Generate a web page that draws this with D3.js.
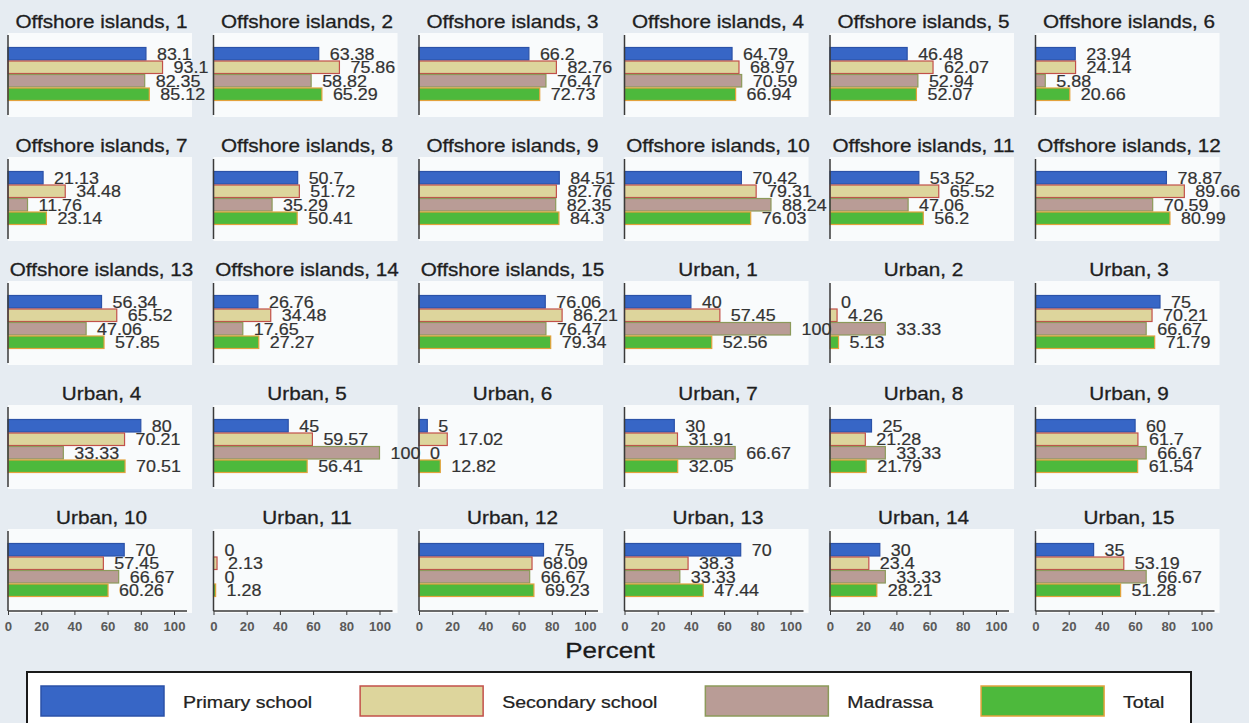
<!DOCTYPE html>
<html>
<head>
<meta charset="utf-8">
<script src="https://cdn.jsdelivr.net/npm/d3@7"></script>
<style>
  html, body { margin: 0; padding: 0; background: #e6ecf2; }
  svg { display: block; font-family: "Liberation Sans", Arial, sans-serif; }
</style>
</head>
<body>
<svg id="chart" width="1249" height="723"></svg>
<script>
// ---------------- DATA ----------------
const panels = [
  "Offshore islands, 1","Offshore islands, 2","Offshore islands, 3","Offshore islands, 4","Offshore islands, 5","Offshore islands, 6",
  "Offshore islands, 7","Offshore islands, 8","Offshore islands, 9","Offshore islands, 10","Offshore islands, 11","Offshore islands, 12",
  "Offshore islands, 13","Offshore islands, 14","Offshore islands, 15","Urban, 1","Urban, 2","Urban, 3",
  "Urban, 4","Urban, 5","Urban, 6","Urban, 7","Urban, 8","Urban, 9",
  "Urban, 10","Urban, 11","Urban, 12","Urban, 13","Urban, 14","Urban, 15"
];
const seriesNames = ["Primary school", "Secondary school", "Madrassa", "Total"];
const primary   = [83.1,63.38,66.2,64.79,46.48,23.94,21.13,50.7,84.51,70.42,53.52,78.87,56.34,26.76,76.06,40,0,75,80,45,5,30,25,60,70,0,75,70,30,35];
const secondary = [93.1,75.86,82.76,68.97,62.07,24.14,34.48,51.72,82.76,79.31,65.52,89.66,65.52,34.48,86.21,57.45,4.26,70.21,70.21,59.57,17.02,31.91,21.28,61.7,57.45,2.13,68.09,38.3,23.4,53.19];
const madrassa  = [82.35,58.82,76.47,70.59,52.94,5.88,11.76,35.29,82.35,88.24,47.06,70.59,47.06,17.65,76.47,100,33.33,66.67,33.33,100,0,66.67,33.33,66.67,66.67,0,66.67,33.33,33.33,66.67];
const total     = [85.12,65.29,72.73,66.94,52.07,20.66,23.14,50.41,84.3,76.03,56.2,80.99,57.85,27.27,79.34,52.56,5.13,71.79,70.51,56.41,12.82,32.05,21.79,61.54,60.26,1.28,69.23,47.44,28.21,51.28];
const xTicks = [0, 20, 40, 60, 80, 100];
const axisTitle = "Percent";

// ---------------- STYLE ----------------
const fills   = ["#3766c6", "#ddd59c", "#b99c96", "#4db93c"];
const strokes = ["#2b52a8", "#c2504a", "#8c9a5a", "#e3a23c"];
const SX = 1.15; // horizontal text stretch of the original picture

const svg = d3.select("#chart");
const W = 1249, H = 723;
const values = [primary, secondary, madrassa, total];

const nCols = 6;
const colStep = 205.5, rowStep = 124;
const x0 = 8, top0 = 35, plotH = 80, axisLen = 179;

const x = d3.scaleLinear().domain([0, 100]).range([0, 166]);
const y = d3.scaleBand().domain(seriesNames).range([12, 66]).padding(0);

function stretchedText(g, tx, ty, str, size, anchor, fill, weight, sx) {
  return g.append("text")
    .attr("transform", `translate(${tx},${ty}) scale(${sx || SX},1)`)
    .attr("text-anchor", anchor)
    .attr("font-size", size)
    .attr("font-weight", weight || "normal")
    .attr("fill", fill)
    .text(str);
}

const nRows = Math.ceil(panels.length / nCols);

panels.forEach((name, i) => {
  const col = i % nCols, row = Math.floor(i / nCols);
  const g = svg.append("g")
    .attr("transform", `translate(${x0 + col * colStep},${top0 + row * rowStep})`);

  // plot background
  g.append("rect").attr("x", 0).attr("y", -2).attr("width", 184).attr("height", plotH + 4)
    .attr("fill", "#f9fbfc");

  // title
  stretchedText(g, axisLen / 2 + 4, -7, name, 18, "middle", "#1e1e1e")
    .attr("stroke", "#1e1e1e").attr("stroke-width", 0.3);

  // bars
  seriesNames.forEach((s, k) => {
    const v = values[k][i];
    g.append("rect")
      .attr("x", x(0))
      .attr("y", y(s) + 0.5)
      .attr("width", Math.max(x(v) - x(0), 0))
      .attr("height", y.bandwidth() - 1)
      .attr("fill", fills[k])
      .attr("stroke", strokes[k])
      .attr("stroke-width", 1.2);
  });

  // vertical axis line
  g.append("line").attr("x1", 0).attr("x2", 0).attr("y1", 0).attr("y2", plotH)
    .attr("stroke", "#3a3a3a").attr("stroke-width", 1.5);

  // bottom x-axis on last row
  if (row === nRows - 1) {
    const ax = g.append("g").attr("transform", `translate(0,${plotH})`)
      .call(d3.axisBottom(x).tickValues(xTicks).tickSize(4).tickSizeOuter(0));
    ax.select(".domain").remove();
    ax.append("line").attr("x1", 0).attr("x2", axisLen).attr("y1", 0).attr("y2", 0)
      .attr("stroke", "#3a3a3a").attr("stroke-width", 1.5);
    ax.selectAll(".tick line").attr("stroke", "#3a3a3a").attr("stroke-width", 1);
    ax.selectAll(".tick text").remove();
    ax.selectAll(".tick").each(function(d) {
      d3.select(this).append("text")
        .attr("transform", `translate(0,20) scale(1.1,1)`)
        .attr("text-anchor", "middle")
        .attr("font-size", 12)
        .attr("font-weight", "bold")
        .attr("fill", "#5a5a5a")
        .text(d);
    });
  }
});

// bar labels drawn on top of all panels (they overflow neighbours)
panels.forEach((name, i) => {
  const col = i % nCols, row = Math.floor(i / nCols);
  const g = svg.append("g")
    .attr("transform", `translate(${x0 + col * colStep},${top0 + row * rowStep})`);
  seriesNames.forEach((s, k) => {
    const v = values[k][i];
    stretchedText(g, x(v) + 11, y(s) + y.bandwidth() / 2 + 5.8, String(v), 16, "start", "#333333", "normal", 1.12)
      .attr("stroke", "#333333").attr("stroke-width", 0.2);
  });
});

// x axis title
stretchedText(svg, 610, 658, axisTitle, 22, "middle", "#1a1a1a", "normal", 1.18)
  .attr("stroke", "#1a1a1a").attr("stroke-width", 0.3);

// legend
const leg = svg.append("g");
leg.append("rect").attr("x", 27).attr("y", 672).attr("width", 1164).attr("height", 70)
  .attr("fill", "#ffffff").attr("stroke", "#1a1a1a").attr("stroke-width", 2);
let lx = 41;
seriesNames.forEach((s, k) => {
  leg.append("rect").attr("x", lx).attr("y", 686).attr("width", 123).attr("height", 30)
    .attr("fill", fills[k]).attr("stroke", strokes[k]).attr("stroke-width", 1.5);
  const t = stretchedText(leg, lx + 142, 708, s, 17, "start", "#222222")
    .attr("stroke", "#222222").attr("stroke-width", 0.25);
  const w = t.node().getComputedTextLength() * SX;
  lx = lx + 142 + w + 48;
});
</script>
</body>
</html>
